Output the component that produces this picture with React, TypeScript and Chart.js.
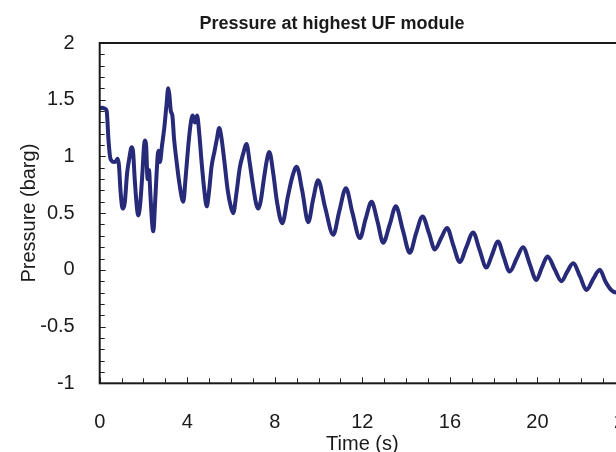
import React, { useEffect, useRef } from 'react';
import { Chart, registerables } from 'chart.js';

Chart.register(...registerables);

// ---- data ----
const timeS = [
  0.0, 0.1, 0.25, 0.32, 0.4, 0.47, 0.55, 0.65, 0.75, 0.82, 0.88, 0.95, 1.02, 1.08, 1.15, 1.25, 1.35, 1.46,
  1.52, 1.6, 1.7, 1.76, 1.85, 1.95, 2.02, 2.07, 2.12, 2.19, 2.25, 2.32, 2.4, 2.45, 2.52, 2.6, 2.68, 2.75,
  2.85, 2.95, 3.05, 3.13, 3.18, 3.25, 3.32, 3.4, 3.51, 3.65, 3.82, 3.92, 4.05, 4.15, 4.25, 4.35, 4.45, 4.55,
  4.66, 4.78, 4.89, 5.0, 5.11, 5.25, 5.35, 5.46, 5.55, 5.7, 5.85, 6.0, 6.1, 6.25, 6.4, 6.55, 6.71, 6.85,
  7.0, 7.15, 7.24, 7.35, 7.5, 7.65, 7.75, 7.93, 8.1, 8.34, 8.6, 8.8, 9.0, 9.25, 9.53, 9.75, 9.98, 10.3,
  10.67, 10.95, 11.25, 11.55, 11.89, 12.15, 12.42, 12.7, 12.95, 13.25, 13.53, 13.85, 14.17, 14.45, 14.75,
  15.05, 15.31, 15.6, 15.87, 16.15, 16.45, 16.75, 17.06, 17.35, 17.67, 17.9, 18.2, 18.45, 18.73, 19.05,
  19.34, 19.65, 19.95, 20.2, 20.46, 20.8, 21.1, 21.35, 21.63, 21.95, 22.24, 22.55, 22.85, 23.1, 23.38,
  23.6, 23.9,
];
const pressureBarg = [
  1.42, 1.43, 1.42, 1.4, 1.15, 1.0, 0.96, 0.95, 0.96, 0.98, 0.92, 0.7, 0.56, 0.54, 0.6, 0.85, 0.98, 1.08,
  1.05, 0.8, 0.55, 0.48, 0.58, 0.85, 1.08, 1.14, 1.1, 0.8, 0.88, 0.65, 0.4, 0.34, 0.55, 0.85, 1.05, 0.95,
  1.1, 1.25, 1.45, 1.6, 1.55, 1.4, 1.36, 1.15, 0.96, 0.75, 0.6, 0.8, 1.1, 1.28, 1.36, 1.3, 1.36, 1.2,
  0.94, 0.7, 0.56, 0.7, 0.91, 1.05, 1.15, 1.25, 1.18, 0.95, 0.7, 0.55, 0.5, 0.68, 0.9, 1.02, 1.11, 0.95,
  0.75, 0.58, 0.54, 0.6, 0.8, 0.98, 1.04, 0.85, 0.6, 0.41, 0.65, 0.82, 0.91, 0.7, 0.42, 0.62, 0.79, 0.55,
  0.31, 0.52, 0.72, 0.5, 0.28, 0.45, 0.6, 0.42, 0.24, 0.4, 0.56, 0.35, 0.15, 0.32, 0.47,
  0.32, 0.18, 0.28, 0.37, 0.22, 0.07, 0.2, 0.33, 0.18, 0.02, 0.12, 0.25, 0.12, -0.015, 0.1,
  0.2, 0.05, -0.09, 0.02, 0.117, 0.0, -0.1, -0.02, 0.058, -0.06, -0.178, -0.08, 0.0, -0.1, -0.18,
  -0.2, -0.12,
];
const xTickValues = [0, 4, 8, 12, 16, 20, 24];
const xTickLabels = ['0', '4', '8', '12', '16', '20', '24'];
const yTickValues = [-1, -0.5, 0, 0.5, 1, 1.5, 2];
const yTickLabels = ['-1', '-0.5', '0', '0.5', '1', '1.5', '2'];
const chartTitle = 'Pressure at highest UF module';
const xAxisTitle = 'Time (s)';
const yAxisTitle = 'Pressure (barg)';

const FONT = "'Liberation Sans', Arial, Helvetica, sans-serif";
const TEXT = '#1a1a1a';
const LINE = '#272A78';

const framePlugin = {
  id: 'frame',
  afterDatasetsDraw(chart: any) {
    const { ctx, chartArea: a, scales } = chart;
    const x = scales.x;
    const y = scales.y;
    ctx.save();
    ctx.strokeStyle = '#222';
    ctx.lineWidth = 1;
    ctx.beginPath();
    // y minor / major ticks (inward)
    for (let i = -10; i <= 20; i++) {
      const py = Math.round(y.getPixelForValue(i / 10)) + 0.5;
      const len = i % 5 === 0 ? 6 : 5;
      ctx.moveTo(a.left, py);
      ctx.lineTo(a.left + len, py);
    }
    // x minor / major ticks (inward)
    for (let i = 0; i <= 24; i++) {
      const px = Math.round(x.getPixelForValue(i)) + 0.5;
      const len = i % 4 === 0 ? 6 : 5;
      ctx.moveTo(px, a.bottom);
      ctx.lineTo(px, a.bottom - len);
    }
    ctx.stroke();
    ctx.lineWidth = 2;
    ctx.strokeStyle = '#1a1a1a';
    ctx.strokeRect(a.left, a.top, a.right - a.left, a.bottom - a.top);
    ctx.restore();
  },
};

export default function App() {
  const ref = useRef<HTMLCanvasElement | null>(null);
  useEffect(() => {
    if (!ref.current) return;
    const data = timeS.map((t, i) => ({ x: t, y: pressureBarg[i] }));
    const chart = new Chart(ref.current, {
      type: 'line',
      data: {
        datasets: [
          {
            data,
            borderColor: LINE,
            borderWidth: 4,
            pointRadius: 0,
            fill: false,
            cubicInterpolationMode: 'monotone',
          },
        ],
      },
      options: {
        animation: false,
        responsive: false,
        devicePixelRatio: 1,
        layout: { padding: { top: 0, left: 39, right: 39, bottom: 0 } },
        plugins: {
          legend: { display: false },
          tooltip: { enabled: false },
          title: {
            display: true,
            text: chartTitle,
            color: TEXT,
            font: { family: FONT, size: 18, weight: 'bold' },
            padding: { top: 13.4, bottom: 8 },
          },
        },
        scales: {
          x: {
            type: 'linear',
            min: 0,
            max: 24,
            afterBuildTicks: (s: any) => {
              s.ticks = xTickValues.map((v) => ({ value: v }));
            },
            afterFit: (s: any) => {
              s.height = 470 - 383.3;
            },
            grid: { display: false },
            border: { display: false },
            ticks: {
              autoSkip: false,
              maxRotation: 0,
              padding: 18.7,
              color: TEXT,
              font: { family: FONT, size: 20 },
              callback: (v: any) => xTickLabels[xTickValues.indexOf(Number(v))],
            },
            title: {
              display: true,
              text: xAxisTitle,
              color: TEXT,
              font: { family: FONT, size: 20 },
              padding: { top: 0, bottom: 14 },
            },
          },
          y: {
            type: 'linear',
            min: -1,
            max: 2,
            afterBuildTicks: (s: any) => {
              s.ticks = yTickValues.map((v) => ({ value: v }));
            },
            afterFit: (s: any) => {
              s.width = 99.7 - 39;
            },
            grid: { display: false },
            border: { display: false },
            ticks: {
              autoSkip: false,
              padding: 17,
              color: TEXT,
              font: { family: FONT, size: 20 },
              callback: (v: any) => yTickLabels[yTickValues.indexOf(Number(v))],
            },
            title: {
              display: true,
              text: yAxisTitle,
              color: TEXT,
              font: { family: FONT, size: 20 },
              padding: { top: -22, bottom: 0 },
            },
          },
        },
      },
      plugins: [framePlugin],
    } as any);
    return () => chart.destroy();
  }, []);

  return (
    <div
      style={{
        position: 'fixed',
        left: 0,
        top: 0,
        width: 616,
        height: 452,
        overflow: 'hidden',
        background: '#fff',
      }}
    >
      <canvas ref={ref} width={664} height={470} style={{ display: 'block', width: 664, height: 470 }} />
    </div>
  );
}
